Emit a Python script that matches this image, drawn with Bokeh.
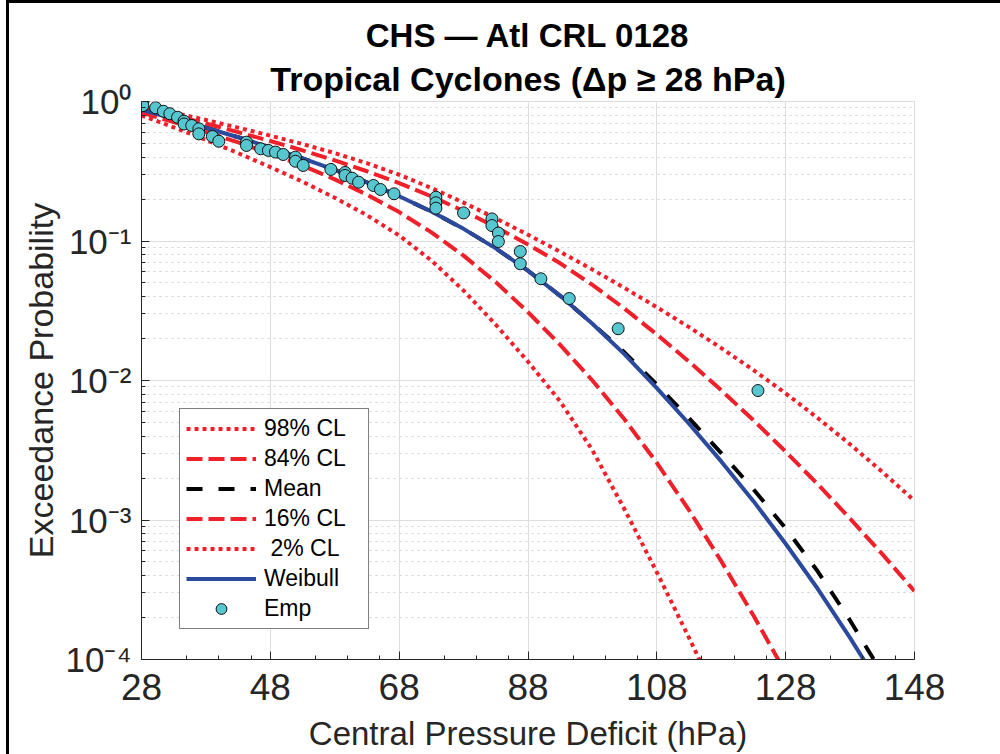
from bokeh.plotting import figure
from bokeh.models import FixedTicker, Title, Legend, LegendItem, ColumnDataSource
from bokeh.embed import file_html
from bokeh.resources import INLINE

# ---------------- data ----------------
x_w = [28, 33, 38, 43, 48, 53, 58, 63, 68, 73, 78, 83, 88, 93, 98, 103, 108, 113, 118, 123, 128, 133, 138, 141]
p_weibull = [0.871, 0.7533, 0.6486, 0.5546, 0.4688, 0.3917, 0.3236, 0.2630, 0.2094, 0.1626, 0.1222, 0.08851,
             0.06124, 0.04046, 0.02553, 0.01538, 0.00881, 0.004898, 0.00263, 0.001365, 0.000676, 0.00032,
             0.000143, 0.0000857]

x_mean = [28, 33, 38, 43, 48, 53, 58, 63, 68, 73, 78, 83, 88, 93, 98, 103, 108, 113, 118, 123, 128, 133, 138, 143]
p_mean = [0.871, 0.7533, 0.6486, 0.5546, 0.4688, 0.3917, 0.3236, 0.2630, 0.2094, 0.1626, 0.1222, 0.08851,
          0.06124, 0.04046, 0.02553, 0.01585, 0.009333, 0.00537, 0.00302, 0.00166, 0.000871, 0.000427,
          0.0001905, 0.0000794]

x_16 = [28, 33, 38, 43, 48, 53, 58, 63, 68, 73, 78, 83, 88, 93, 98, 103, 108, 113, 118, 123, 128]
p_16 = [0.8318, 0.7112, 0.6053, 0.5093, 0.4236, 0.3467, 0.2767, 0.2148, 0.1611, 0.1153, 0.07852, 0.0507,
        0.0309, 0.01799, 0.01, 0.005248, 0.00257, 0.001175, 0.000507, 0.0002065, 0.0000804]

x_02 = [28, 33, 38, 43, 48, 53, 58, 63, 68, 73, 78, 83, 88, 93, 98, 103, 108, 113, 118]
p_02 = [0.7943, 0.6531, 0.5309, 0.4266, 0.3388, 0.2661, 0.2042, 0.1531, 0.1096, 0.07244, 0.04416, 0.02512,
        0.01365, 0.007079, 0.003162, 0.001189, 0.000422, 0.000143, 0.0000468]

x_84 = [28, 33, 38, 43, 48, 53, 58, 63, 68, 73, 78, 83, 88, 93, 98, 103, 108, 113, 118, 123, 128, 133, 138, 143, 148]
p_84 = [0.912, 0.7989, 0.6958, 0.6026, 0.5212, 0.4467, 0.3784, 0.3162, 0.26, 0.2089, 0.1641, 0.1259, 0.09441,
        0.06918, 0.04842, 0.03273, 0.02138, 0.01365, 0.008511, 0.005188, 0.00309, 0.001799, 0.001023,
        0.000569, 0.000309]

x_98 = [28, 33, 38, 43, 48, 53, 58, 63, 68, 73, 78, 83, 88, 93, 98, 103, 108, 113, 118, 123, 128, 133, 138, 143, 148]
p_98 = [0.9333, 0.8318, 0.7371, 0.6494, 0.5689, 0.4955, 0.4266, 0.361, 0.2985, 0.2399, 0.1884, 0.1454, 0.1109,
        0.08368, 0.06237, 0.04597, 0.0335, 0.02413, 0.01708, 0.01189, 0.008082, 0.00537, 0.003487,
        0.002213, 0.001373]

emp_x = [28.2, 28.2, 30.2, 31.4, 32.4, 33.6, 34.6, 34.6, 35.8, 36.9, 36.9, 39.0, 40.0, 44.3, 44.3, 46.5,
         47.7, 48.8, 50.0, 51.9, 51.9, 53.1, 57.4, 59.6, 59.6, 60.7, 61.7, 64.0, 65.1, 67.2, 73.7, 73.7,
         73.7, 78.0, 82.4, 82.4, 83.4, 83.4, 86.8, 86.8, 90.0, 94.4, 102.0, 123.7]
emp_p = [0.989, 0.935, 0.902, 0.851, 0.817, 0.771, 0.723, 0.690, 0.673, 0.637, 0.586, 0.561, 0.519, 0.511,
         0.484, 0.458, 0.446, 0.434, 0.417, 0.399, 0.373, 0.348, 0.326, 0.310, 0.295, 0.282, 0.264, 0.250,
         0.234, 0.218, 0.206, 0.188, 0.172, 0.159, 0.144, 0.129, 0.114, 0.0991, 0.0841, 0.0687, 0.0536,
         0.0387, 0.0235, 0.00847]

x_ticks = [28, 48, 68, 88, 108, 128, 148]
x_minor = [35, 40, 45, 55, 60, 65, 75, 80, 85, 95, 100, 105, 115, 120, 125, 135, 140, 145]
y_ticks = [1e-4, 1e-3, 1e-2, 1e-1, 1.0]
y_labels = ["10\u207b\u2074", "10\u207b\u00b3", "10\u207b\u00b2", "10\u207b\u00b9", "10\u2070"]
y_minor = [m * t for t in [1e-4, 1e-3, 1e-2, 1e-1] for m in range(2, 10)]

title_1 = "CHS \u2014 Atl CRL 0128"
title_2 = "Tropical Cyclones (\u0394p \u2265 28 hPa)"

# ---------------- figure ----------------
FONT = "Liberation Sans"
RED = "#f0202a"
BLUE = "#2b4a9e"

p = figure(width=1000, height=754, x_range=(28, 148), y_range=(1e-4, 1.0), y_axis_type="log",
           output_backend="svg", toolbar_location=None, title=None,
           min_border_left=141, min_border_right=86, min_border_top=101, min_border_bottom=95)
# black rule along the left and top edges of the picture, painted under a transparent border area
p.styles = {"background-color": "white",
            "box-shadow": "inset 6px 0px 0px 0px white, inset 9px 3px 0px 0px black"}

p.add_layout(Title(text=title_2, align="center", text_font=FONT, text_font_size="34px",
                   text_font_style="bold", text_color="black", standoff=7), "above")
p.add_layout(Title(text=title_1, align="center", text_font=FONT, text_font_size="33px",
                   text_font_style="bold", text_color="black", standoff=2), "above")

p.background_fill_color = "white"
p.border_fill_alpha = 0.0
p.outline_line_color = "#dcdcdc"

p.xaxis.ticker = FixedTicker(ticks=x_ticks, minor_ticks=x_minor)
p.yaxis.ticker = FixedTicker(ticks=y_ticks, minor_ticks=y_minor)
p.yaxis.major_label_overrides = dict(zip(y_ticks, y_labels))

for ax in (p.xaxis[0], p.yaxis[0]):
    ax.axis_line_color = "#262626"
    ax.major_tick_line_color = "#262626"
    ax.minor_tick_line_color = "#262626"
    ax.major_tick_in = 8
    ax.major_tick_out = 0
    ax.minor_tick_in = 4
    ax.minor_tick_out = 0
    ax.major_label_text_font = FONT
    ax.major_label_text_color = "#262626"
    ax.axis_label_text_font = FONT
    ax.axis_label_text_font_style = "normal"
    ax.axis_label_text_color = "#262626"

p.xaxis.major_label_text_font_size = "37px"
p.yaxis.major_label_text_font_size = "35px"
p.xaxis.axis_label_text_font_size = "33px"
p.yaxis.axis_label_text_font_size = "34px"
p.xaxis.axis_label = "Central Pressure Deficit (hPa)"
p.yaxis.axis_label = "Exceedance Probability"
p.xaxis.major_label_standoff = 14
p.xaxis.axis_label_standoff = 12
p.yaxis.major_label_standoff = 10
p.yaxis.axis_label_standoff = 3

p.xgrid.grid_line_color = "#dedede"
p.ygrid.grid_line_color = "#dedede"
p.ygrid.minor_grid_line_color = "#d2d2d2"
p.ygrid.minor_grid_line_dash = "2 4"

# ---------------- series ----------------
r98 = p.line(x_98, p_98, line_color=RED, line_width=4, line_dash="4 4")
r84 = p.line(x_84, p_84, line_color=RED, line_width=4, line_dash="16 6")
rmean = p.line(x_mean, p_mean, line_color="black", line_width=4, line_dash="16 16")
r16 = p.line(x_16, p_16, line_color=RED, line_width=4, line_dash="16 6")
r02 = p.line(x_02, p_02, line_color=RED, line_width=4, line_dash="4 4")
rw = p.line(x_w, p_weibull, line_color=BLUE, line_width=4)
src = ColumnDataSource(dict(x=emp_x, y=emp_p))
remp = p.scatter("x", "y", source=src, size=12, fill_color="#56c7d1", line_color="#111111", line_width=1)

legend = Legend(items=[
    LegendItem(label="98% CL", renderers=[r98]),
    LegendItem(label="84% CL", renderers=[r84]),
    LegendItem(label="Mean", renderers=[rmean]),
    LegendItem(label="16% CL", renderers=[r16]),
    LegendItem(label="\u00a02% CL", renderers=[r02]),
    LegendItem(label="Weibull", renderers=[rw]),
    LegendItem(label="Emp", renderers=[remp]),
], location=(38, 30))
legend.label_text_font = FONT
legend.label_text_font_size = "23px"
legend.label_text_color = "black"
legend.glyph_width = 70
legend.glyph_height = 27
legend.label_height = 27
legend.label_width = 98
legend.label_standoff = 8
legend.spacing = 3
legend.padding = 6
legend.margin = 0
legend.border_line_color = "black"
legend.border_line_width = 1
legend.background_fill_color = "white"
legend.background_fill_alpha = 1.0
p.add_layout(legend)

open("out.html", "w").write(file_html(p, INLINE))
